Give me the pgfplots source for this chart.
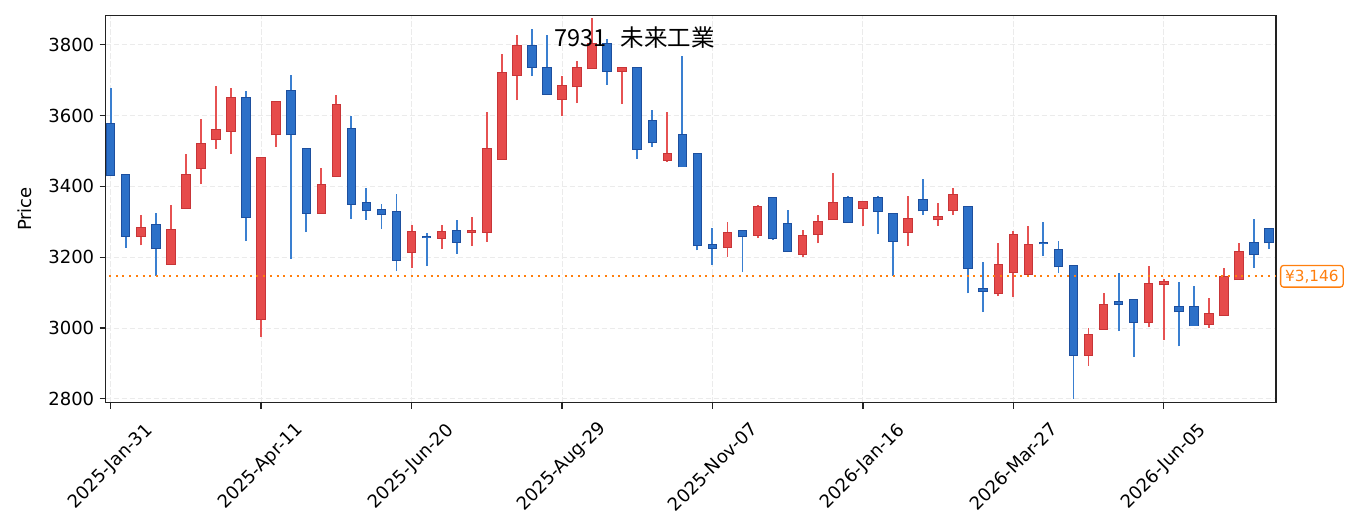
\documentclass[border=0pt]{standalone}
\usepackage{fontspec}
\setmainfont{DejaVu Sans}
\newfontfamily\cjk{Noto Sans CJK JP}
\usepackage{pgfplots}
\usepackage{pgfplotstable}
\pgfplotsset{compat=1.18}
\definecolor{upfill}{HTML}{E64B4B}
\definecolor{upedge}{HTML}{C73538}
\definecolor{upwick}{HTML}{E65252}
\definecolor{dnfill}{HTML}{2C70C8}
\definecolor{dnedge}{HTML}{1D4F9E}
\definecolor{dnwick}{HTML}{3A7FD0}
\definecolor{mplorange}{HTML}{FF7F0E}
\definecolor{gridc}{HTML}{EBEBEB}
\definecolor{axc}{HTML}{222222}

% up candles (close >= open)
\pgfplotstableread{
x o h l c
2 3261 3318 3233 3282
4 3181 3346 3181 3276
5 3340 3490 3340 3431
6 3453 3591 3406 3519
7 3533 3682 3505 3559
8 3557 3677 3491 3649
10 3024 3480 2974 3480
11 3547 3642 3511 3638
14 3325 3451 3325 3405
15 3430 3657 3430 3631
20 3215 3292 3168 3271
22 3255 3290 3223 3271
24 3270 3312 3231 3273
25 3272 3609 3243 3505
26 3478 3773 3478 3720
27 3715 3826 3643 3797
30 3648 3711 3600 3683
31 3682 3753 3635 3734
32 3733 3875 3733 3803
34 3726 3734 3632 3734
37 3475 3609 3469 3491
41 3230 3298 3200 3268
43 3263 3346 3254 3341
46 3210 3278 3200 3260
47 3266 3318 3239 3299
48 3307 3437 3307 3353
50 3340 3356 3288 3356
53 3272 3374 3231 3308
55 3307 3352 3288 3314
56 3332 3394 3319 3375
59 3098 3239 3090 3179
60 3157 3273 3087 3262
61 3153 3287 3150 3234
65 2924 2999 2894 2981
66 2998 3098 2995 3065
69 3018 3174 3002 3124
70 3123 3137 2965 3129
73 3012 3084 3000 3039
74 3037 3169 3034 3144
75 3137 3239 3137 3214
}\up

% down candles (close < open)
\pgfplotstableread{
x o h l c
0 3576 3678 3431 3431
1 3431 3431 3226 3261
3 3291 3324 3147 3225
9 3649 3670 3245 3312
12 3668 3715 3195 3547
13 3505 3505 3271 3325
16 3562 3600 3308 3351
17 3353 3394 3305 3332
18 3333 3351 3279 3321
19 3327 3379 3161 3193
21 3258 3269 3175 3256
23 3274 3304 3209 3244
28 3797 3843 3711 3738
29 3735 3826 3662 3662
33 3802 3815 3687 3725
35 3734 3734 3478 3506
36 3584 3616 3511 3524
38 3545 3767 3456 3456
39 3491 3491 3219 3233
40 3235 3281 3178 3226
42 3273 3273 3158 3259
44 3367 3367 3248 3253
45 3293 3332 3214 3218
49 3367 3373 3300 3300
51 3367 3373 3265 3331
52 3322 3322 3147 3246
54 3362 3422 3319 3332
57 3341 3341 3098 3170
58 3110 3185 3045 3104
62 3241 3298 3203 3239
63 3220 3247 3155 3174
64 3175 3175 2800 2924
67 3073 3156 2991 3067
68 3078 3078 2918 3018
71 3059 3129 2948 3047
72 3059 3118 3007 3007
76 3240 3307 3170 3208
77 3279 3279 3223 3242
}\down

\pgfplotsset{
  candle/.style n args={2}{draw=none, mark=none, forget plot,
    error bars/.cd, y dir=plus, y explicit, error mark=none,
    error bar style={line width=#1, draw=#2, solid}},
}

\begin{document}
\begin{tikzpicture}
\useasboundingbox (0,0) rectangle (1355pt,532pt);
\begin{axis}[
  at={(105.7pt,129.3pt)}, anchor=south west,
  scale only axis, width=1170.3pt, height=387.4pt,
  xmin=-0.332, xmax=77.46, ymin=2789, ymax=3883,
  clip mode=individual,
  xtick={0,10,20,30,40,50,60,70},
  xticklabels={2025-Jan-31,2025-Apr-11,2025-Jun-20,2025-Aug-29,2025-Nov-07,2026-Jan-16,2026-Mar-27,2026-Jun-05},
  ytick={2800,3000,3200,3400,3600,3800},
  /pgf/number format/assume math mode=true,
  /pgf/number format/1000 sep={},
  tick label style={font=\fontsize{18}{21}\selectfont, text=black},
  yticklabel style={xshift=-2pt},
  xticklabel style={yshift=-58pt, rotate=45, anchor=center},
  tick align=outside, tick pos=left,
  major tick length=6pt,
  tick style={line width=1.3pt, color=axc},
  axis line style={line width=1.3pt, color=axc},
  grid=major,
  major grid style={line width=0.9pt, color=gridc, dash pattern=on 5.5pt off 2.5pt},
  ylabel={Price},
  every axis y label/.style={at={(axis description cs:-0.069,0.5)}, anchor=center, rotate=90, font=\fontsize{18}{21}\selectfont},
  title={\cjk 7931\hspace{0.6em}未来工業},
  title style={at={(rel axis cs:0.4519,0.9045)}, anchor=base, font=\fontsize{23.5}{26}\selectfont},
]
% wicks
\addplot[candle={1.9pt}{upwick}]
  table[x=x, y=l, y error plus expr=\thisrow{h}-\thisrow{l}] {\up};
\addplot[candle={1.9pt}{dnwick}]
  table[x=x, y=l, y error plus expr=\thisrow{h}-\thisrow{l}] {\down};
% body outlines
\addplot[candle={9.5pt}{upedge}]
  table[x=x, y expr=\thisrow{o}-2.8, y error plus expr=\thisrow{c}-\thisrow{o}+5.6] {\up};
\addplot[candle={9.5pt}{dnedge}]
  table[x=x, y expr=\thisrow{c}-2.8, y error plus expr=\thisrow{o}-\thisrow{c}+5.6] {\down};
% body fills
\addplot[candle={7.5pt}{upfill}]
  table[x=x, y=o, y error plus expr=\thisrow{c}-\thisrow{o}] {\up};
\addplot[candle={7.5pt}{dnfill}]
  table[x=x, y=c, y error plus expr=\thisrow{o}-\thisrow{c}] {\down};
% reference price line
\addplot[mplorange, line width=2pt, dash pattern=on 2pt off 4.7pt] coordinates {(-1,3146) (78,3146)};
\node[draw=mplorange, line width=1.3pt, rounded corners=3pt, fill=white, text=mplorange,
  font=\fontsize{15.3}{17}\selectfont, anchor=west, inner xsep=4.5pt, inner ysep=0pt,
  minimum height=21.7pt, xshift=4pt] at (axis cs:77.46,3146) {¥3,146};
\end{axis}
\end{tikzpicture}
\end{document}
